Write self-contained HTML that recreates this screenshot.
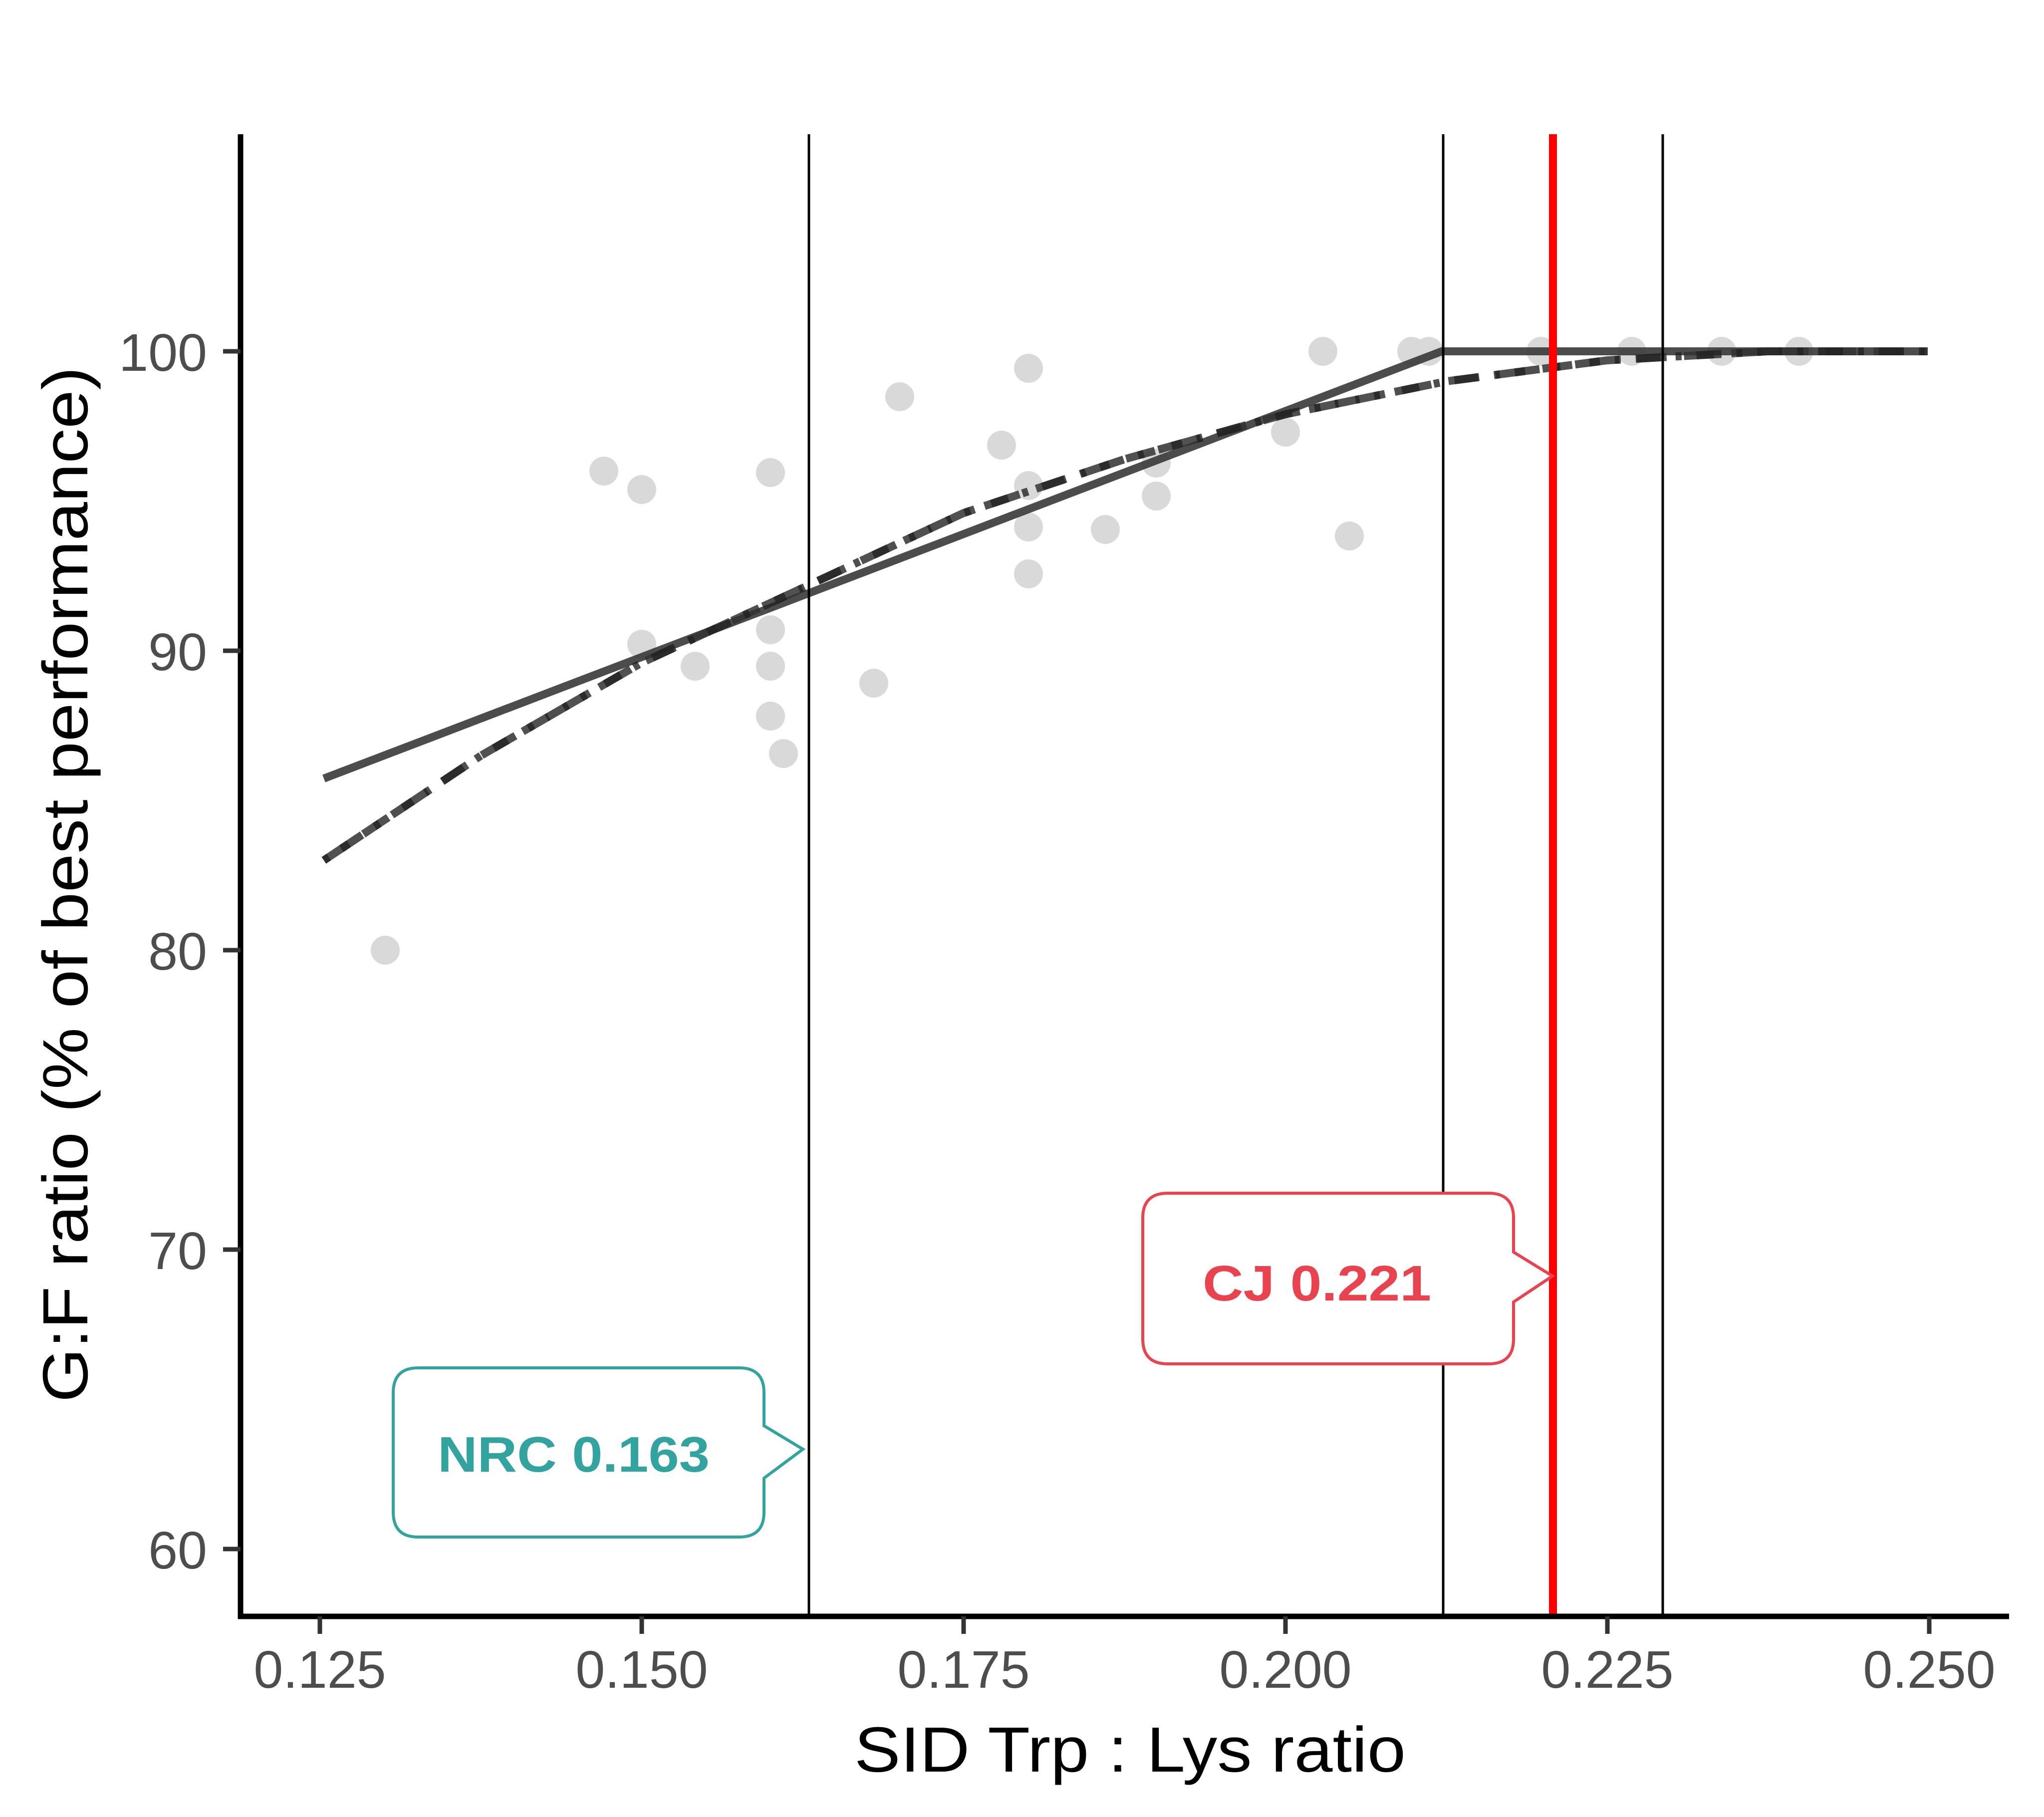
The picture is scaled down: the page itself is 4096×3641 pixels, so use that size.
<!DOCTYPE html>
<html><head><meta charset="utf-8"><style>html,body{margin:0;padding:0;background:#fff}svg{display:block}</style></head><body>
<svg width="4096" height="3641" viewBox="0 0 4096 3641" xmlns="http://www.w3.org/2000/svg" font-family="Liberation Sans, sans-serif">
<rect width="4096" height="3641" fill="#fff"/>
<g fill="#d9d9d9">
<circle cx="772" cy="1904" r="29"/><circle cx="1210" cy="944" r="29"/><circle cx="1286" cy="981" r="29"/><circle cx="1286" cy="1291" r="29"/><circle cx="1393" cy="1335" r="29"/><circle cx="1544" cy="947" r="29"/><circle cx="1544" cy="1262" r="29"/><circle cx="1544" cy="1335" r="29"/><circle cx="1544" cy="1435" r="29"/><circle cx="1570" cy="1510" r="29"/><circle cx="1751" cy="1369" r="29"/><circle cx="1803" cy="795" r="29"/><circle cx="2007" cy="892" r="29"/><circle cx="2061" cy="738" r="29"/><circle cx="2061" cy="973" r="29"/><circle cx="2061" cy="1056" r="29"/><circle cx="2061" cy="1150" r="29"/><circle cx="2215" cy="1061" r="29"/><circle cx="2317" cy="928" r="29"/><circle cx="2317" cy="994" r="29"/><circle cx="2576" cy="866" r="29"/><circle cx="2651" cy="704" r="29"/><circle cx="2704" cy="1074" r="29"/><circle cx="2829" cy="704" r="29"/><circle cx="2863" cy="704" r="29"/><circle cx="3088" cy="704" r="29"/><circle cx="3270" cy="704" r="29"/><circle cx="3450" cy="704" r="29"/><circle cx="3605" cy="704" r="29"/>
</g>
<polyline points="649,1560 2889,704 3863,704" fill="none" stroke="#333" stroke-opacity="0.88" stroke-width="16"/>
<polyline points="649,1724 964,1514 1286,1328 1609,1178 1931,1028 2254,920 2576,830 2899,764 3221,722 3544,704 3863,704" fill="none" stroke="#333" stroke-opacity="0.85" stroke-width="16" stroke-dasharray="60,35"/>
<polyline points="649,1724 964,1514 1286,1328 1609,1178 1931,1028 2254,920 2576,830 2899,764 3221,722 3544,704 3863,704" fill="none" stroke="#222" stroke-opacity="0.8" stroke-width="16" stroke-dasharray="12,30,50,30"/>
<g stroke="#000" stroke-width="5">
<line x1="1621" y1="269" x2="1621" y2="3239"/>
<line x1="2892" y1="269" x2="2892" y2="3239"/>
<line x1="3332" y1="269" x2="3332" y2="3239"/>
</g>
<line x1="3112" y1="269" x2="3112" y2="3239" stroke="#ff0000" stroke-width="16"/>
<path d="M838,2741 H1481 Q1531,2741 1531,2791 V2857 L1609,2904 L1531,2962 V3030 Q1531,3080 1481,3080 H838 Q788,3080 788,3030 V2791 Q788,2741 838,2741 Z" fill="#fff" stroke="#33a39f" stroke-width="6"/>
<text x="877" y="2949" font-size="100" font-weight="bold" fill="#33a39f" textLength="545" lengthAdjust="spacingAndGlyphs">NRC 0.163</text>
<path d="M2340,2391 H2983 Q3033,2391 3033,2441 V2509 L3111,2557 L3033,2609 V2683 Q3033,2733 2983,2733 H2340 Q2290,2733 2290,2683 V2441 Q2290,2391 2340,2391 Z" fill="#fff" stroke="#e8434f" stroke-width="6"/>
<text x="2410" y="2606" font-size="100" font-weight="bold" fill="#e8434f" textLength="458" lengthAdjust="spacingAndGlyphs">CJ 0.221</text>
<g stroke="#000" stroke-width="11" fill="none">
<line x1="482" y1="269" x2="482" y2="3244"/>
<line x1="477" y1="3239" x2="4026" y2="3239"/>
</g>
<g stroke="#333" stroke-width="9">
<line x1="447" y1="704" x2="482" y2="704"/><line x1="447" y1="1304" x2="482" y2="1304"/><line x1="447" y1="1904" x2="482" y2="1904"/><line x1="447" y1="2504" x2="482" y2="2504"/><line x1="447" y1="3104" x2="482" y2="3104"/>
<line x1="641" y1="3239" x2="641" y2="3274"/><line x1="1286" y1="3239" x2="1286" y2="3274"/><line x1="1931" y1="3239" x2="1931" y2="3274"/><line x1="2576" y1="3239" x2="2576" y2="3274"/><line x1="3221" y1="3239" x2="3221" y2="3274"/><line x1="3866" y1="3239" x2="3866" y2="3274"/>
</g>
<g font-size="106" fill="#4d4d4d" text-anchor="end">
<text x="415" y="743">100</text><text x="415" y="1343">90</text><text x="415" y="1943">80</text><text x="415" y="2543">70</text><text x="415" y="3143">60</text>
</g>
<g font-size="106" fill="#4d4d4d" text-anchor="middle">
<text x="641" y="3382">0.125</text><text x="1286" y="3382">0.150</text><text x="1931" y="3382">0.175</text><text x="2576" y="3382">0.200</text><text x="3221" y="3382">0.225</text><text x="3866" y="3382">0.250</text>
</g>
<text x="1712" y="3550" font-size="128" fill="#000" textLength="1105" lengthAdjust="spacingAndGlyphs">SID Trp : Lys ratio</text>
<text transform="translate(175,2810) rotate(-90)" font-size="128" fill="#000" textLength="2075" lengthAdjust="spacingAndGlyphs">G:F ratio (% of best performance)</text>
</svg>
</body></html>
